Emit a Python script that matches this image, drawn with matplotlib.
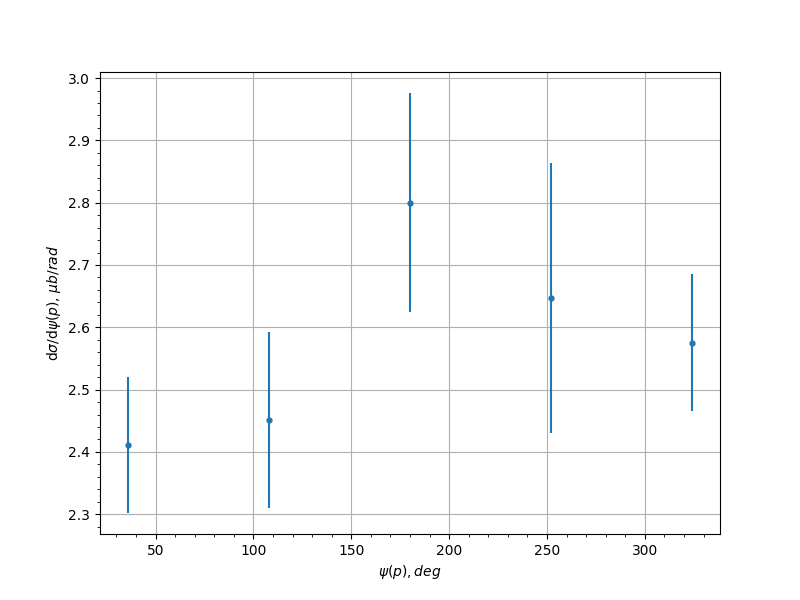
import matplotlib
matplotlib.use("Agg")
import matplotlib.pyplot as plt
from matplotlib.ticker import AutoMinorLocator

psi = [36, 108, 180, 252, 324]
values = [2.411, 2.451, 2.800, 2.647, 2.575]
errors = [0.109, 0.141, 0.176, 0.217, 0.110]

fig, ax = plt.subplots(figsize=(8, 6), dpi=100)
ax.errorbar(psi, values, yerr=errors, fmt='o', markersize=3.5, color='#1f77b4')
ax.grid(True)
ax.xaxis.set_minor_locator(AutoMinorLocator())
ax.yaxis.set_minor_locator(AutoMinorLocator())
ax.set_xlabel(r'$\psi(p), deg$')
ax.set_ylabel(r'd$\sigma$/d$\psi(p)$, $\mu b/rad$')
fig.savefig('out.png')
